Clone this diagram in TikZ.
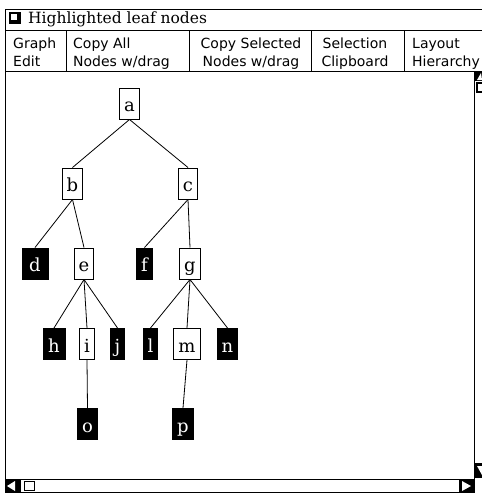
\documentclass[tikz,border=0pt]{standalone}
\usepackage{fontspec}
\setmainfont{DejaVu Serif}
\newfontfamily\genevafont{DejaVu Sans}

\begin{document}
\begin{tikzpicture}[x=1pt, y=-1pt,
    tnode/.style={draw, line width=1pt, font=\fontsize{18}{18}\selectfont,
      text height=16pt, text depth=0pt, inner ysep=7.5pt, inner xsep=4.5pt},
    leaf/.style={tnode, fill=black, text=white},
    menu/.style={anchor=base west, align=left, inner sep=0pt,
      font=\genevafont\fontsize{14}{18}\selectfont},
    frame/.style={draw, line width=1pt}]
  \useasboundingbox[fill=white] (0,0) rectangle (482,493);

  % window
  \draw[frame] (5,9) rectangle (483,30);
  \draw[frame] (5,30) rectangle (483,71);
  \draw[frame] (5,71) rectangle (474,479);
  \draw[frame] (5,479) rectangle (474,492);
  \draw[frame] (474,71) -- (474,492);
  \foreach \x in {66,189,311,404}
    \draw[line width=1pt] (\x,30) -- (\x,71);

  % title
  \fill[black] (9,12) rectangle (21,24);
  \fill[white] (11,14) rectangle (17,20);
  \node[anchor=base west, inner sep=0pt, font=\fontsize{15.5}{15.5}\selectfont]
    (title) at (28,23) {Highlighted leaf nodes};

  % buttons
  \node[menu] (graph) at (13,66) {Graph\\Edit};
  \node[menu] (copyall) at (73,66) {Copy All\\Nodes w/drag};
  \node[menu, align=center, anchor=base] (copysel) at (251,66) {Copy Selected\\Nodes w/drag};
  \node[menu, align=center, anchor=base] (selection) at (355,66) {Selection\\Clipboard};
  \node[menu] (layout) at (412,66) {Layout\\Hierarchy};

  % scroll bars
  \fill[black] (5,480) rectangle (21,492);
  \fill[white] (7,486) -- (15,481) -- (15,491) -- cycle;
  \draw[line width=1.5pt, fill=white] (24.5,481.5) rectangle (34.5,490.5);
  \fill[black] (459,480) rectangle (474,492);
  \fill[white] (471,486) -- (462,481) -- (462,491) -- cycle;
  \fill[black] (475,71) rectangle (482,81);
  \fill[white] (481,73) -- (477,80) -- (482,80) -- cycle;
  \draw[line width=1.5pt, fill=white] (477,83) rectangle (483,92);
  \fill[black] (475,463) rectangle (482,478);
  \fill[white] (477,466) -- (482,466) -- (482,475) -- cycle;

  % tree
  \node[tnode] (a) at (129.5,103.5) {a};
  \node[tnode] (b) at (72.5,183.5) {b};
  \node[tnode] (c) at (188,183.5) {c};
  \node[leaf, minimum width=26pt] (d) at (35,263.5) {d};
  \node[tnode] (e) at (84,263.5) {e};
  \node[leaf] (f) at (144.5,263.5) {f};
  \node[tnode] (g) at (190,263.5) {g};
  \node[leaf, minimum width=22pt] (h) at (54,344) {h};
  \node[tnode] (i) at (87,344) {i};
  \node[leaf] (j) at (117.5,344) {j};
  \node[leaf] (l) at (150.5,344) {l};
  \node[tnode] (m) at (187,344) {m};
  \node[leaf] (n) at (227.5,344) {n};
  \node[leaf] (o) at (87.5,424) {o};
  \node[leaf] (p) at (183,424) {p};

  \foreach \u/\v in {a/b,a/c,b/d,b/e,c/f,c/g,e/h,e/i,e/j,g/l,g/m,g/n,i/o,m/p}
    \draw[line width=0.8pt] (\u.south) -- (\v.north);
\end{tikzpicture}
\end{document}
